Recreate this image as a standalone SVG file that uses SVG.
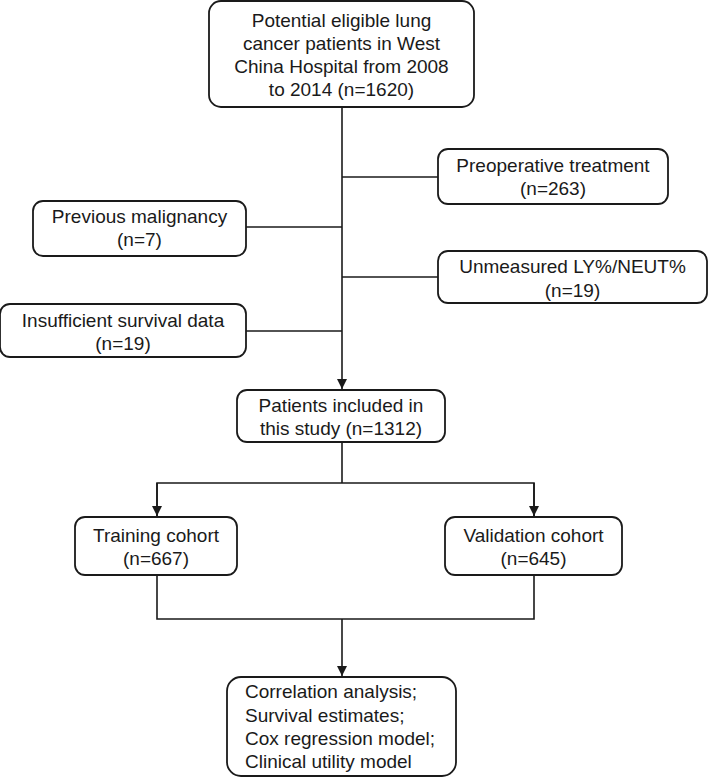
<svg xmlns="http://www.w3.org/2000/svg" width="709" height="778" viewBox="0 0 709 778">
<style>
.box{fill:#fff;stroke:#1a1a1a;stroke-width:1.8}
.t{font-family:"Liberation Sans",Arial,sans-serif;font-size:19px;fill:#1a1a1a;text-anchor:middle}
.l{font-family:"Liberation Sans",Arial,sans-serif;font-size:19px;fill:#1a1a1a;text-anchor:start}
.c{fill:none;stroke:#1a1a1a;stroke-width:1.6}
</style>
<defs>
<marker id="arr" viewBox="0 0 10 10" refX="10" refY="5" markerWidth="10" markerHeight="10" markerUnits="userSpaceOnUse" orient="auto">
<path d="M0,0 L10,5 L0,10 Z" fill="#1a1a1a"/>
</marker>
</defs>
<rect width="709" height="778" fill="#fff"/>
<g id="connectors">
<line class="c" x1="342" y1="107" x2="342" y2="389" marker-end="url(#arr)"/>
<line class="c" x1="342" y1="177" x2="438" y2="177"/>
<line class="c" x1="246" y1="227" x2="342" y2="227"/>
<line class="c" x1="342" y1="277" x2="438" y2="277"/>
<line class="c" x1="246" y1="331" x2="342" y2="331"/>
<line class="c" x1="342" y1="442" x2="342" y2="483"/>
<polyline class="c" points="157,516 157,483 534,483 534,516"/>
<line class="c" x1="157" y1="483" x2="157" y2="516" marker-end="url(#arr)"/>
<line class="c" x1="534" y1="483" x2="534" y2="516" marker-end="url(#arr)"/>
<polyline class="c" points="157,575 157,619 534,619 534,575"/>
<line class="c" x1="342" y1="619" x2="342" y2="676" marker-end="url(#arr)"/>
</g>
<g id="n_potential">
<rect class="box" x="209" y="1" width="265" height="106" rx="12"/>
<text class="t" x="341.5" y="27">Potential eligible lung</text>
<text class="t" x="341.5" y="50">cancer patients in West</text>
<text class="t" x="341.5" y="73">China Hospital from 2008</text>
<text class="t" x="341.5" y="96">to 2014 (n=1620)</text>
</g>
<g id="n_preop">
<rect class="box" x="438" y="149" width="230" height="55" rx="10"/>
<text class="t" x="553" y="172">Preoperative treatment</text>
<text class="t" x="553" y="195">(n=263)</text>
</g>
<g id="n_prev">
<rect class="box" x="33" y="201" width="213" height="55" rx="10"/>
<text class="t" x="139.5" y="223">Previous malignancy</text>
<text class="t" x="139.5" y="246">(n=7)</text>
</g>
<g id="n_unmeasured">
<rect class="box" x="438" y="251" width="269" height="52" rx="10"/>
<text class="t" x="572.5" y="273">Unmeasured LY%/NEUT%</text>
<text class="t" x="572.5" y="297">(n=19)</text>
</g>
<g id="n_insufficient">
<rect class="box" x="0" y="304" width="246" height="53" rx="10"/>
<text class="t" x="123" y="327">Insufficient survival data</text>
<text class="t" x="123" y="350">(n=19)</text>
</g>
<g id="n_patients">
<rect class="box" x="237" y="390" width="208" height="52" rx="10"/>
<text class="t" x="341" y="412">Patients included in</text>
<text class="t" x="341" y="435">this study (n=1312)</text>
</g>
<g id="n_training">
<rect class="box" x="75" y="517" width="162" height="58" rx="10"/>
<text class="t" x="156" y="542">Training cohort</text>
<text class="t" x="156" y="565">(n=667)</text>
</g>
<g id="n_validation">
<rect class="box" x="445" y="517" width="177" height="58" rx="10"/>
<text class="t" x="533.5" y="542">Validation cohort</text>
<text class="t" x="533.5" y="565">(n=645)</text>
</g>
<g id="n_analysis">
<rect class="box" x="227" y="677" width="229" height="99" rx="14"/>
<text class="l" x="245" y="698">Correlation analysis;</text>
<text class="l" x="245" y="722">Survival estimates;</text>
<text class="l" x="245" y="745">Cox regression model;</text>
<text class="l" x="245" y="768">Clinical utility model</text>
</g>
</svg>
